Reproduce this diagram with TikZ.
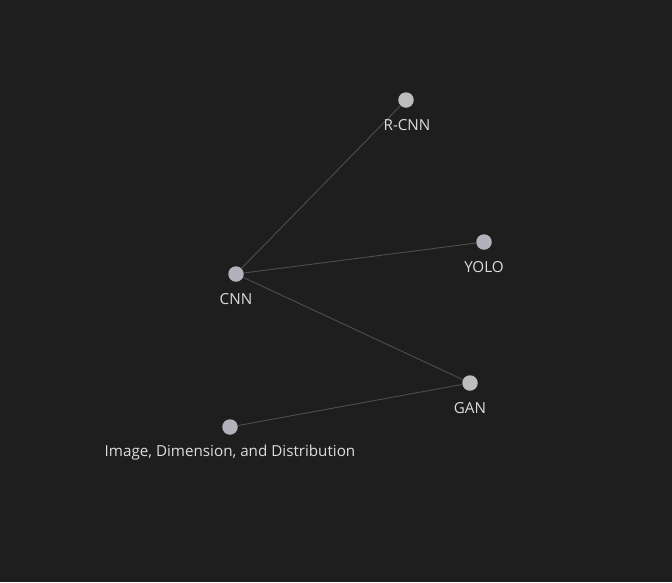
\documentclass[tikz,border=0pt]{standalone}
\usepackage{fontspec}
\setmainfont{Open Sans}
\definecolor{bg}{HTML}{1E1E1E}
\definecolor{dotA}{HTML}{B2B2BC}
\definecolor{dotB}{HTML}{BDBDBD}
\definecolor{edgec}{HTML}{4E4E4E}
\definecolor{txt}{HTML}{DCDCDC}
\tikzset{
  dot/.style={circle,inner sep=0pt,minimum size=15.5pt,fill=#1},
  lbl/.style={text=txt,font=\fontsize{15.2}{17}\selectfont,inner sep=0pt,anchor=center},
  edge/.style={draw=edgec,line width=0.9pt}
}
\begin{document}
\begin{tikzpicture}[x=1pt,y=-1pt]
\fill[bg] (0,0) rectangle (672,582);
\useasboundingbox (0,0) rectangle (672,582);
\node[dot=dotB] (rcnn) at (406,100) {};
\node[dot=dotA] (yolo) at (484,242) {};
\node[dot=dotA] (cnn) at (236,274) {};
\node[dot=dotB] (gan) at (470,383) {};
\node[dot=dotA] (img) at (230,427) {};
\draw[edge] (cnn) -- (rcnn);
\draw[edge] (cnn) -- (yolo);
\draw[edge] (cnn) -- (gan);
\draw[edge] (gan) -- (img);
\node[lbl] (lrcnn) at (407,125) {R-CNN};
\node[lbl] (lyolo) at (484,267) {YOLO};
\node[lbl] (lcnn) at (236,299) {CNN};
\node[lbl] (lgan) at (470,408) {GAN};
\node[lbl] (limg) at (230,453) {Image, Dimension, and Distribution};
\end{tikzpicture}
\end{document}
